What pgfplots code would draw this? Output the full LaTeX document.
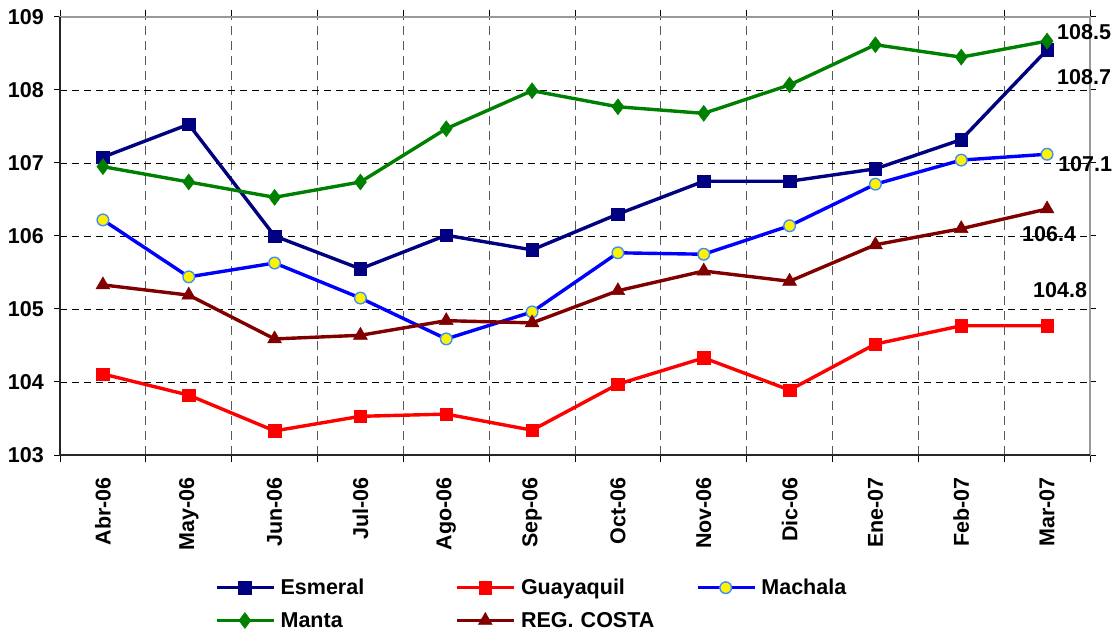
\documentclass[border=0pt]{standalone}
\usepackage{pgfplots}
\pgfplotsset{compat=1.18}
\usepackage{fontspec}
\setmainfont{Liberation Sans}
\definecolor{cEsm}{HTML}{000080}
\definecolor{cGua}{HTML}{FF0000}
\definecolor{cMac}{HTML}{0000FF}
\definecolor{cMacE}{HTML}{3F8CFF}
\definecolor{cMan}{HTML}{008000}
\definecolor{cReg}{HTML}{800000}
\newcommand{\bigf}{\bfseries\fontsize{21.5}{24}\selectfont}
\begin{document}
\begin{tikzpicture}
\path[use as bounding box] (0,0) rectangle (1118pt,634pt);
\begin{axis}[
  at={(60pt,179pt)}, anchor=south west,
  scale only axis, width=1030pt, height=438pt,
  xmin=-0.5, xmax=11.5, ymin=103, ymax=109,
  xtick={0,...,11},
  xticklabels={Abr-06,May-06,Jun-06,Jul-06,Ago-06,Sep-06,Oct-06,Nov-06,Dic-06,Ene-07,Feb-07,Mar-07},
  minor xtick={-0.5,0.5,...,11.5},
  ytick={103,...,109},
  /pgf/number format/assume math mode=true,
  tick label style={font=\bigf},
  xticklabel style={rotate=90, anchor=east, inner sep=0pt},
  xticklabel shift=16pt,
  yticklabel style={inner sep=0pt},
  yticklabel shift=10pt,
  tick align=outside,
  major tick length=6pt, minor tick length=7pt,
  major x tick style={draw=none},
  tick style={black, line width=1pt},
  ymajorgrids=true, xminorgrids=true,
  major grid style={black, line width=0.9pt, dash pattern=on 7pt off 5pt},
  minor grid style={black!65, line width=1pt, dash pattern=on 9pt off 6pt},
  axis line style={draw=black!40, line width=1.2pt},
  clip=false,
  legend columns=3,
  legend cell align=left,
  legend style={at={(0.1505,-0.283)}, anchor=north west, draw=none, fill=none,
    inner sep=0pt, font=\bigf,
    nodes={text width=150pt, inner sep=0pt, align=left},
    /tikz/every odd column/.append style={column sep=5pt},
    /tikz/every even column/.append style={column sep=25pt},
    row sep=16pt},
  legend image code/.code={\draw[mark repeat=2,mark phase=2,#1] plot coordinates {(0pt,0pt) (28pt,0pt) (57pt,0pt)};},
  every axis plot/.append style={line width=3.4pt},
]
\draw[black!85, line width=1.5pt] (rel axis cs:0,1) -- (rel axis cs:0,0) -- (rel axis cs:1,0);
\addplot[cEsm, mark=square*, mark size=6.2pt, mark options={solid, line width=0.5pt}] coordinates {
(0,107.08) (1,107.53) (2,106.00) (3,105.55) (4,106.01) (5,105.81) (6,106.30) (7,106.75) (8,106.75) (9,106.92) (10,107.32) (11,108.55)};
\addlegendentry{Esmeral}
\addplot[cGua, mark=square*, mark size=6.2pt, mark options={solid, line width=0.5pt}] coordinates {
(0,104.11) (1,103.82) (2,103.33) (3,103.53) (4,103.56) (5,103.34) (6,103.97) (7,104.33) (8,103.89) (9,104.52) (10,104.77) (11,104.77)};
\addlegendentry{Guayaquil}
\addplot[cMac, mark=*, mark size=5.8pt, mark options={solid, fill=yellow, draw=cMacE, line width=1.4pt}] coordinates {
(0,106.22) (1,105.44) (2,105.63) (3,105.15) (4,104.59) (5,104.96) (6,105.77) (7,105.75) (8,106.14) (9,106.71) (10,107.04) (11,107.12)};
\addlegendentry{Machala}
\addplot[cMan, mark=diamond*, mark size=8pt, mark options={solid, line width=0.5pt}] coordinates {
(0,106.95) (1,106.74) (2,106.53) (3,106.74) (4,107.47) (5,107.99) (6,107.77) (7,107.68) (8,108.07) (9,108.62) (10,108.45) (11,108.67)};
\addlegendentry{Manta}
\addplot[cReg, mark=triangle*, mark size=8pt, mark options={solid, line width=0.5pt}] coordinates {
(0,105.33) (1,105.19) (2,104.59) (3,104.64) (4,104.84) (5,104.81) (6,105.25) (7,105.52) (8,105.38) (9,105.88) (10,106.10) (11,106.37)};
\addlegendentry{REG. COSTA}
\node[anchor=west, inner sep=0pt, font=\bigf] at (axis cs:11.116,108.79) {108.5};
\node[anchor=west, inner sep=0pt, font=\bigf] at (axis cs:11.116,108.18) {108.7};
\node[anchor=west, inner sep=0pt, font=\bigf] at (axis cs:11.128,106.99) {107.1};
\node[anchor=west, inner sep=0pt, font=\bigf] at (axis cs:10.708,106.03) {106.4};
\node[anchor=west, inner sep=0pt, font=\bigf] at (axis cs:10.836,105.26) {104.8};
\end{axis}
\end{tikzpicture}
\end{document}
